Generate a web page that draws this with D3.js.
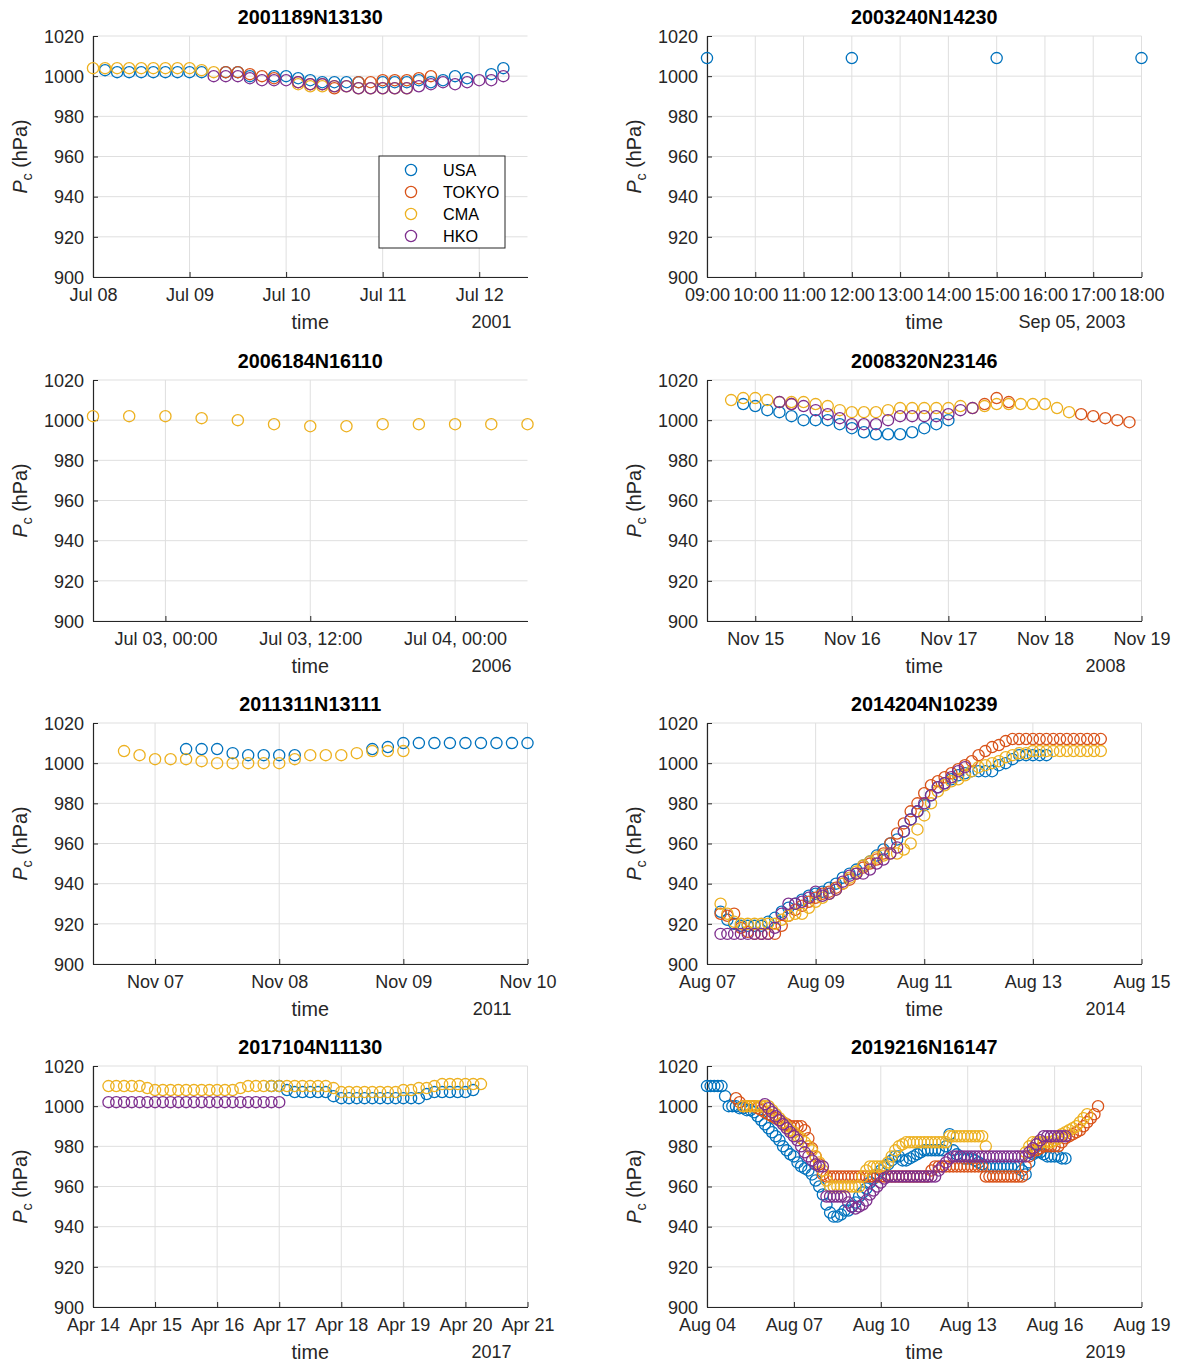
<!DOCTYPE html>
<html>
<head>
<meta charset="utf-8">
<script src="https://cdn.jsdelivr.net/npm/d3@7"></script>
<style>
  body { margin: 0; background: #ffffff; }
</style>
</head>
<body>
<svg id="fig" width="1178" height="1362"></svg>
<script>
// Central pressure (hPa) of eight tropical cyclones as reported by four agencies.
// Every series is sampled on a 3-hourly grid starting at the storm's start time;
// null marks a time with no fix from that agency.

const agencies = ["USA", "TOKYO", "CMA", "HKO"];
const agencyColors = ["#0072BD", "#D95319", "#EDB120", "#7E2F8E"];
const pressureTicks = [900, 920, 940, 960, 980, 1000, 1020];
const stepHours = 3;

// 2001189N13130
const s1Start = "2001-07-08T00:00Z";
const s1Domain = ["2001-07-08T00:00Z", "2001-07-12T12:00Z"];
const s1Ticks = ["2001-07-08T00:00Z", "2001-07-09T00:00Z", "2001-07-10T00:00Z", "2001-07-11T00:00Z", "2001-07-12T00:00Z"];
const s1USA = [null,1003,1002,1002,1002, 1002,1002,1002,1002,1002, null,1002,1002,1000,null, 1000,1000,999,998,997, 997,997,997,null,997, 997,997,998,997,998, 1000,999,null,1001,1004];
const s1TOKYO = [null,null,null,null,null, null,null,null,null,null, null,1002,1002,1001,1000, 999,null,997,996,996, 994,null,997,997,998, 998,998,999,1000];
const s1CMA = [1004,1004,1004,1004,1004, 1004,1004,1004,1004,1003, 1002,null,null,null,null, null,null,996,995,995, 995,995,994,994,994, 994,994];
const s1HKO = [null,null,null,null,null, null,null,null,null,null, 1000,1000,1000,999,998, 998,998,997,996,996, 995,995,994,994,994, 994,994,995,996,997, 996,997,998,998,1000];

// 2003240N14230
const s2Start = "2003-09-05T09:00Z";
const s2Domain = ["2003-09-05T09:00Z", "2003-09-05T18:00Z"];
const s2Ticks = ["2003-09-05T09:00Z", "2003-09-05T10:00Z", "2003-09-05T11:00Z", "2003-09-05T12:00Z", "2003-09-05T13:00Z", "2003-09-05T14:00Z", "2003-09-05T15:00Z", "2003-09-05T16:00Z", "2003-09-05T17:00Z", "2003-09-05T18:00Z"];
const s2USA = [1009, 1009, 1009, 1009];

// 2006184N16110
const s3Start = "2006-07-02T18:00Z";
const s3Domain = ["2006-07-02T18:00Z", "2006-07-04T06:00Z"];
const s3Ticks = ["2006-07-03T00:00Z", "2006-07-03T12:00Z", "2006-07-04T00:00Z"];
const s3CMA = [1002,1002,1002,1001,1000, 998,997,997,998,998, 998,998,998];

// 2008320N23146
const s4Start = "2008-11-14T12:00Z";
const s4Domain = ["2008-11-14T12:00Z", "2008-11-19T00:00Z"];
const s4Ticks = ["2008-11-15T00:00Z", "2008-11-16T00:00Z", "2008-11-17T00:00Z", "2008-11-18T00:00Z", "2008-11-19T00:00Z"];
const s4USA = [null,null,null,1008,1007, 1005,1004,1002,1000,1000, 1000,998,996,994,993, 993,993,994,996,998, 1000];
const s4TOKYO = [null,null,null,null,null, null,null,1008,null,null, null,null,null,null,null, null,null,null,null,null, null,null,null,1008,1011, 1009,null,null,null,null, null,1003,1002,1001,1000, 999];
const s4CMA = [null,null,1010,1011,1011, 1010,1009,1009,1009,1008, 1007,1005,1004,1004,1004, 1005,1006,1006,1006,1006, 1006,1007,1006,1007,1008, 1008,1008,1008,1008,1006, 1004];
const s4HKO = [null,null,null,null,null, null,1009,1008,1007,1005, 1003,1001,998,998,998, 1000,1002,1002,1002,1002, 1003,1005,1006];

// 2011311N13111
const s5Start = "2011-11-06T12:00Z";
const s5Domain = ["2011-11-06T12:00Z", "2011-11-10T00:00Z"];
const s5Ticks = ["2011-11-07T00:00Z", "2011-11-08T00:00Z", "2011-11-09T00:00Z", "2011-11-10T00:00Z"];
const s5USA = [null,null,null,null,null, null,1007,1007,1007,1005, 1004,1004,1004,1004,null, null,null,null,1007,1008, 1010,1010,1010,1010,1010, 1010,1010,1010,1010];
const s5CMA = [null,null,1006,1004,1002, 1002,1002,1001,1000,1000, 1000,1000,1000,1002,1004, 1004,1004,1005,1006,1006, 1006];

// 2014204N10239
const s6Start = "2014-08-07T00:00Z";
const s6Domain = ["2014-08-07T00:00Z", "2014-08-15T00:00Z"];
const s6Ticks = ["2014-08-07T00:00Z", "2014-08-09T00:00Z", "2014-08-11T00:00Z", "2014-08-13T00:00Z", "2014-08-15T00:00Z"];
const s6USA = [null,null,926,922,920, 919,919,919,919,921, 923,926,928,930,932, 934,935,936,938,940, 943,945,947,949,951, 954,957,960,962,966, 972,976,979,984,988, 990,992,994,995,996, 996,996,996,999,1000, 1002,1004,1004,1004,1004, 1004];
const s6TOKYO = [null,null,925,924,925, 918,916,915,915,915, 915,919,924,927,929, 931,933,935,936,938, 940,942,945,948,950, 952,955,960,965,970, 976,980,985,989,991, 993,995,997,999,1001, 1004,1006,1008,1009,1011, 1012,1012,1012,1012,1012, 1012,1012,1012,1012,1012, 1012,1012,1012,1012];
const s6CMA = [null,null,930,925,921, 920,920,920,920,920, 920,922,924,925,925, 928,931,933,935,937, 940,943,946,949,951, 953,954,955,955,957, 960,967,974,980,986, 989,991,992,994,996, 998,999,1000,1001,1003, 1004,1005,1005,1006,1006, 1006,1006,1006,1006,1006, 1006,1006,1006,1006];
const s6HKO = [null,null,915,915,915, 915,915,915,915,915, 918,925,930,930,931, 933,936,934,935,937, 941,944,945,945,947, 950,952,955,958,966, 972,976,980,984,988, 990,993,996,998];

// 2017104N11130
const s7Start = "2017-04-14T00:00Z";
const s7Domain = ["2017-04-14T00:00Z", "2017-04-21T00:00Z"];
const s7Ticks = ["2017-04-14T00:00Z", "2017-04-15T00:00Z", "2017-04-16T00:00Z", "2017-04-17T00:00Z", "2017-04-18T00:00Z", "2017-04-19T00:00Z", "2017-04-20T00:00Z", "2017-04-21T00:00Z"];
const s7USA = [null,null,null,null,null, null,null,null,null,null, null,null,null,null,null, null,null,null,null,null, null,null,null,1010,1010, 1008,1007,1007,1007,1007, 1007,1005,1004,1004,1004, 1004,1004,1004,1004,1004, 1004,1004,1004,1006,1007, 1007,1007,1007,1007,1008];
const s7CMA = [null,null,1010,1010,1010, 1010,1010,1009,1008,1008, 1008,1008,1008,1008,1008, 1008,1008,1008,1008,1009, 1010,1010,1010,1010,1010, 1010,1010,1010,1010,1010, 1010,1009,1007,1007,1007, 1007,1007,1007,1007,1007, 1008,1008,1009,1009,1010, 1011,1011,1011,1011,1011, 1011];
const s7HKO = [null,null,1002,1002,1002, 1002,1002,1002,1002,1002, 1002,1002,1002,1002,1002, 1002,1002,1002,1002,1002, 1002,1002,1002,1002,1002];

// 2019216N16147
const s8Start = "2019-08-04T00:00Z";
const s8Domain = ["2019-08-04T00:00Z", "2019-08-19T00:00Z"];
const s8Ticks = ["2019-08-04T00:00Z", "2019-08-07T00:00Z", "2019-08-10T00:00Z", "2019-08-13T00:00Z", "2019-08-16T00:00Z", "2019-08-19T00:00Z"];
const s8USA = [1010,1010,1010,1010,1010, 1005,1000,1000,1000,999, 999,998,998,997,995, 993,991,989,987,985, 983,980,978,976,975, 972,970,969,968,966, 963,960,956,951,947, 945,945,946,948,948, 950,952,955,957,959, 962,964,966,968,970, 971,973,975,975,973, 973,974,975,976,977, 978,978,978,978,978, 978,980,986,978,976, 975,974,974,974,973, 972,971,970,970,970, 970,970,970,970,970, 970,970,968,966,972, 976,977,977,976,975, 975,975,975,974,974];
const s8TOKYO = [null,null,null,null,null, null,null,null,1004,1002, 1000,1000,1000,1000,999, 998,997,996,995,994, 993,992,991,990,990, 990,990,988,984,979, 975,971,966,965,965, 965,965,965,965,965, 965,965,965,965,965, 965,965,965,965,965, 965,965,965,965,965, 965,965,965,965,965, 965,965,968,970,970, 970,970,970,970,970, 970,970,970,970,970, 970,970,965,965,965, 965,965,965,965,965, 965,965,965,970,975, 978,978,979,980,980, 980,980,980,982,984, 985,986,987,988,990, 992,994,996,1000];
const s8CMA = [null,null,null,null,null, null,null,null,null,null, 1000,1000,1000,1000,1000, 1000,1000,1000,998,996, 994,992,990,988,987, 985,984,982,980,978, 975,972,968,963,960, 960,960,960,960,960, 960,960,960,965,968, 970,970,970,970,970, 972,975,978,980,981, 982,982,982,982,982, 982,982,982,982,982, 982,982,985,985,985, 985,985,985,985,985, 985,985,980,null,null, null,null,null,null,null, null,null,null,977,980, 982,982,982,982,982, 982,983,984,986,987, 988,989,990,992,994, 996];
const s8HKO = [null,null,null,null,null, null,null,null,null,null, null,null,null,null,null, null,1001,999,997,995, 993,991,989,987,985, 983,980,977,975,973, 971,970,970,955,955, 955,955,955,955,952, 950,949,950,951,953, 956,958,960,962,964, 965,965,965,965,965, 965,965,965,965,965, 965,965,965,965,968, 970,972,974,975,975, 975,975,975,975,975, 975,975,975,975,975, 975,975,975,975,975, 975,975,975,975,977, 979,981,983,985,985, 985,985,985,985,985];

const stormNames = ["2001189N13130", "2003240N14230", "2006184N16110", "2008320N23146",
                    "2011311N13111", "2014204N10239", "2017104N11130", "2019216N16147"];
const yearLabels = ["2001", "Sep 05, 2003", "2006", "2008", "2011", "2014", "2017", "2019"];
const tickFormats = ["%b %d", "%H:%M", "%b %d, %H:%M", "%b %d", "%b %d", "%b %d", "%b %d", "%b %d"];

// Per-storm table assembled from the arrays above (series order: USA, TOKYO, CMA, HKO)
const storms = [
  { start: s1Start, domain: s1Domain, ticks: s1Ticks, series: [s1USA, s1TOKYO, s1CMA, s1HKO] },
  { start: s2Start, domain: s2Domain, ticks: s2Ticks, series: [s2USA, null, null, null] },
  { start: s3Start, domain: s3Domain, ticks: s3Ticks, series: [null, null, s3CMA, null] },
  { start: s4Start, domain: s4Domain, ticks: s4Ticks, series: [s4USA, s4TOKYO, s4CMA, s4HKO] },
  { start: s5Start, domain: s5Domain, ticks: s5Ticks, series: [s5USA, null, s5CMA, null] },
  { start: s6Start, domain: s6Domain, ticks: s6Ticks, series: [s6USA, s6TOKYO, s6CMA, s6HKO] },
  { start: s7Start, domain: s7Domain, ticks: s7Ticks, series: [s7USA, null, s7CMA, s7HKO] },
  { start: s8Start, domain: s8Domain, ticks: s8Ticks, series: [s8USA, s8TOKYO, s8CMA, s8HKO] }
].map((s, k) => ({ ...s, name: stormNames[k], year: yearLabels[k], fmt: tickFormats[k] }));

// ---------- layout ----------
const W = 1178, H = 1362;
const colLeft = [93, 707];
const plotW = 434.5;
const rowTop = [36, 380, 723, 1066];
const plotH = 241;
const fontFamily = '"Liberation Sans", Arial, Helvetica, sans-serif';
const ink = "#262626";
const gridColor = "#dfdfdf";
const tickFont = 18, labelFont = 19.8, legendFont = 16.2;
const markerR = 5.6, markerStroke = 1.3;

const svg = d3.select("#fig").attr("font-family", fontFamily);
svg.append("rect").attr("width", W).attr("height", H).attr("fill", "#ffffff");

const parse = s => new Date(s);

storms.forEach((s, k) => {
  const x0 = colLeft[k % 2];
  const y0 = rowTop[Math.floor(k / 2)];
  const g = svg.append("g").attr("transform", `translate(${x0},${y0})`);

  const x = d3.scaleUtc().domain(s.domain.map(parse)).range([0, plotW]);
  const y = d3.scaleLinear().domain([900, 1020]).range([plotH, 0]);
  const tickDates = s.ticks.map(parse);

  // grid
  const grid = g.append("g").attr("stroke", gridColor).attr("stroke-width", 1);
  grid.selectAll("line.h").data(pressureTicks).join("line").attr("class", "h")
    .attr("x1", 0).attr("x2", plotW)
    .attr("y1", d => y(d)).attr("y2", d => y(d));
  grid.selectAll("line.v").data(tickDates).join("line").attr("class", "v")
    .attr("x1", d => x(d)).attr("x2", d => x(d))
    .attr("y1", 0).attr("y2", plotH);

  // axes (ticks point inward)
  const xAxis = g.append("g").attr("transform", `translate(0,${plotH})`)
    .call(d3.axisBottom(x).tickValues(tickDates).tickFormat(d3.utcFormat(s.fmt))
      .tickSizeInner(-5).tickSizeOuter(0));
  const yAxis = g.append("g")
    .call(d3.axisLeft(y).tickValues(pressureTicks).tickFormat(d3.format("d"))
      .tickSizeInner(-5).tickSizeOuter(0));
  [xAxis, yAxis].forEach(ax => {
    ax.attr("font-size", tickFont).attr("font-family", fontFamily);
    ax.select(".domain").attr("stroke", ink).attr("stroke-width", 1.2);
    ax.selectAll(".tick line").attr("stroke", ink).attr("stroke-width", 1);
    ax.selectAll(".tick text").attr("fill", ink);
  });
  xAxis.selectAll(".tick text").attr("y", 18).attr("dy", "0.35em");
  yAxis.selectAll(".tick text").attr("x", -9).attr("dy", "0.35em");

  // markers
  const t0 = parse(s.start).getTime();
  s.series.forEach((vals, a) => {
    if (!vals) return;
    const pts = vals.map((v, i) => ({ t: new Date(t0 + i * stepHours * 3600e3), v }))
      .filter(d => d.v !== null);
    g.append("g").selectAll("circle").data(pts).join("circle")
      .attr("cx", d => x(d.t)).attr("cy", d => y(d.v)).attr("r", markerR)
      .attr("fill", "none").attr("stroke", agencyColors[a]).attr("stroke-width", markerStroke);
  });

  // title
  g.append("text").attr("x", plotW / 2).attr("y", -19).attr("dy", "0.35em")
    .attr("text-anchor", "middle").attr("font-weight", "bold").attr("font-size", labelFont)
    .attr("fill", "#000").text(s.name);

  // x label and reference date
  g.append("text").attr("x", plotW / 2).attr("y", plotH + 45).attr("dy", "0.35em")
    .attr("text-anchor", "middle").attr("font-size", labelFont).attr("fill", ink).text("time");
  g.append("text").attr("x", plotW - 16).attr("y", plotH + 45).attr("dy", "0.35em")
    .attr("text-anchor", "end").attr("font-size", tickFont).attr("fill", ink).text(s.year);

  // y label: P_c (hPa)
  const yl = g.append("text")
    .attr("transform", `translate(${-73},${plotH / 2}) rotate(-90)`)
    .attr("text-anchor", "middle").attr("dy", "0.35em")
    .attr("font-size", labelFont).attr("fill", ink);
  yl.append("tspan").attr("font-style", "italic").text("P");
  yl.append("tspan").attr("dy", 5).attr("font-size", labelFont * 0.72).text("c");
  yl.append("tspan").attr("dy", -5).text(" (hPa)");

  // legend on the first panel
  if (k === 0) {
    const lg = g.append("g").attr("transform", "translate(286,120)");
    lg.append("rect").attr("width", 126).attr("height", 92)
      .attr("fill", "#ffffff").attr("stroke", ink).attr("stroke-width", 1);
    agencies.forEach((name, a) => {
      const ry = 14 + a * 22;
      lg.append("circle").attr("cx", 32).attr("cy", ry).attr("r", markerR)
        .attr("fill", "none").attr("stroke", agencyColors[a]).attr("stroke-width", markerStroke);
      lg.append("text").attr("x", 64).attr("y", ry).attr("dy", "0.35em")
        .attr("font-size", legendFont).attr("fill", "#000").text(name);
    });
  }
});
</script>
</body>
</html>
